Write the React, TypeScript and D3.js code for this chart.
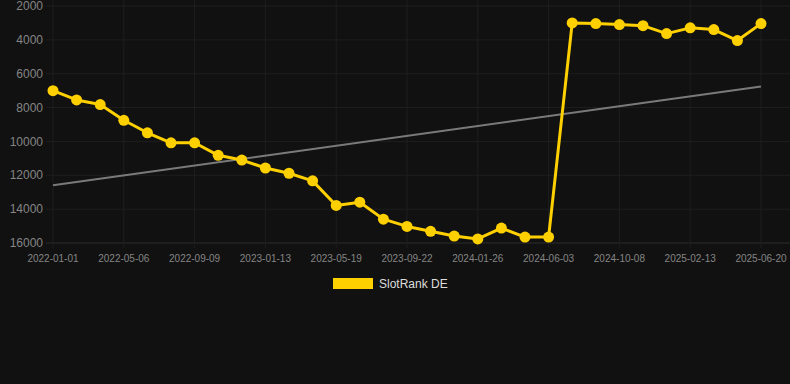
import * as d3 from 'd3';
import { useEffect, useRef } from 'react';

const dates = [
  '2022-01-01', '2022-02-12', '2022-03-26', '2022-05-06', '2022-06-17', '2022-07-29',
  '2022-09-09', '2022-10-21', '2022-12-02', '2023-01-13', '2023-02-24', '2023-04-07',
  '2023-05-19', '2023-06-30', '2023-08-11', '2023-09-22', '2023-11-03', '2023-12-15',
  '2024-01-26', '2024-03-09', '2024-04-21', '2024-06-03', '2024-07-15', '2024-08-26',
  '2024-10-08', '2024-11-19', '2025-01-01', '2025-02-13', '2025-03-27', '2025-05-08',
  '2025-06-20',
];

const rankDE = [
  7000, 7550, 7820, 8750, 9490, 10080, 10080, 10820, 11100, 11570, 11880, 12330,
  13780, 13590, 14590, 15020, 15310, 15590, 15760, 15120, 15650, 15650,
  3000, 3040, 3100, 3160, 3630, 3290, 3390, 4040, 3040,
];

const trend = [12590, 6750];
const yTicks = [2000, 4000, 6000, 8000, 10000, 12000, 14000, 16000];
const seriesName = 'SlotRank DE';

const App = (): React.ReactElement => {
  const ref: any = useRef();
  const width = 790;
  const height = 384;

  useEffect(() => {
    const svg = d3.select(ref.current);
    svg.selectAll('*').remove();

    svg.append('rect').attr('width', width).attr('height', height).attr('fill', '#111111');

    const xScale = d3.scalePoint<string>().domain(dates).range([53, 761]);
    const yScale = d3.scaleLinear().domain([2000, 16000]).range([6, 243]);

    const labelled = dates.filter((_, i) => i % 3 === 0);

    // grid
    svg
      .append('g')
      .selectAll('line')
      .data(yTicks)
      .enter()
      .append('line')
      .attr('x1', 46)
      .attr('x2', width)
      .attr('y1', (d) => yScale(d))
      .attr('y2', (d) => yScale(d))
      .attr('stroke', (d) => (d === 16000 ? '#2c2c2c' : '#1e1e1e'))
      .attr('stroke-width', 1);

    svg
      .append('g')
      .selectAll('line')
      .data(labelled)
      .enter()
      .append('line')
      .attr('x1', (d) => xScale(d) ?? 0)
      .attr('x2', (d) => xScale(d) ?? 0)
      .attr('y1', 0)
      .attr('y2', 248)
      .attr('stroke', '#1e1e1e');

    // y labels
    svg
      .append('g')
      .selectAll('text')
      .data(yTicks)
      .enter()
      .append('text')
      .attr('x', 43)
      .attr('y', (d) => yScale(d))
      .attr('dy', '0.35em')
      .attr('text-anchor', 'end')
      .attr('fill', '#858585')
      .attr('font-family', 'Liberation Sans, Arial, sans-serif')
      .attr('font-size', 12)
      .text((d) => d);

    // x labels
    svg
      .append('g')
      .selectAll('text')
      .data(labelled)
      .enter()
      .append('text')
      .attr('x', (d) => xScale(d) ?? 0)
      .attr('y', 262)
      .attr('text-anchor', 'middle')
      .attr('fill', '#858585')
      .attr('font-family', 'Liberation Sans, Arial, sans-serif')
      .attr('font-size', 10)
      .text((d) => d);

    // trend line
    svg
      .append('line')
      .attr('x1', xScale(dates[0]) ?? 0)
      .attr('x2', xScale(dates[dates.length - 1]) ?? 0)
      .attr('y1', yScale(trend[0]))
      .attr('y2', yScale(trend[1]))
      .attr('stroke', '#7a7a7a')
      .attr('stroke-width', 2);

    const line = d3
      .line<number>()
      .x((_, i) => xScale(dates[i]) ?? 0)
      .y((d) => yScale(d));

    svg
      .append('path')
      .datum(rankDE)
      .attr('d', line)
      .attr('fill', 'none')
      .attr('stroke', '#ffd000')
      .attr('stroke-width', 3)
      .attr('stroke-linejoin', 'round');

    svg
      .append('g')
      .selectAll('circle')
      .data(rankDE)
      .enter()
      .append('circle')
      .attr('cx', (_, i) => xScale(dates[i]) ?? 0)
      .attr('cy', (d) => yScale(d))
      .attr('r', 5.5)
      .attr('fill', '#ffd000');

    // legend
    svg
      .append('rect')
      .attr('x', 333)
      .attr('y', 278)
      .attr('width', 40)
      .attr('height', 11)
      .attr('fill', '#ffd000');

    svg
      .append('text')
      .attr('x', 379)
      .attr('y', 288)
      .attr('fill', '#dddddd')
      .attr('font-family', 'Liberation Sans, Arial, sans-serif')
      .attr('font-size', 12)
      .text(seriesName);
  }, []);

  return (
    <svg
      ref={ref}
      width={width}
      height={height}
      style={{ position: 'fixed', left: 0, top: 0, display: 'block' }}
    />
  );
};

export default App;
